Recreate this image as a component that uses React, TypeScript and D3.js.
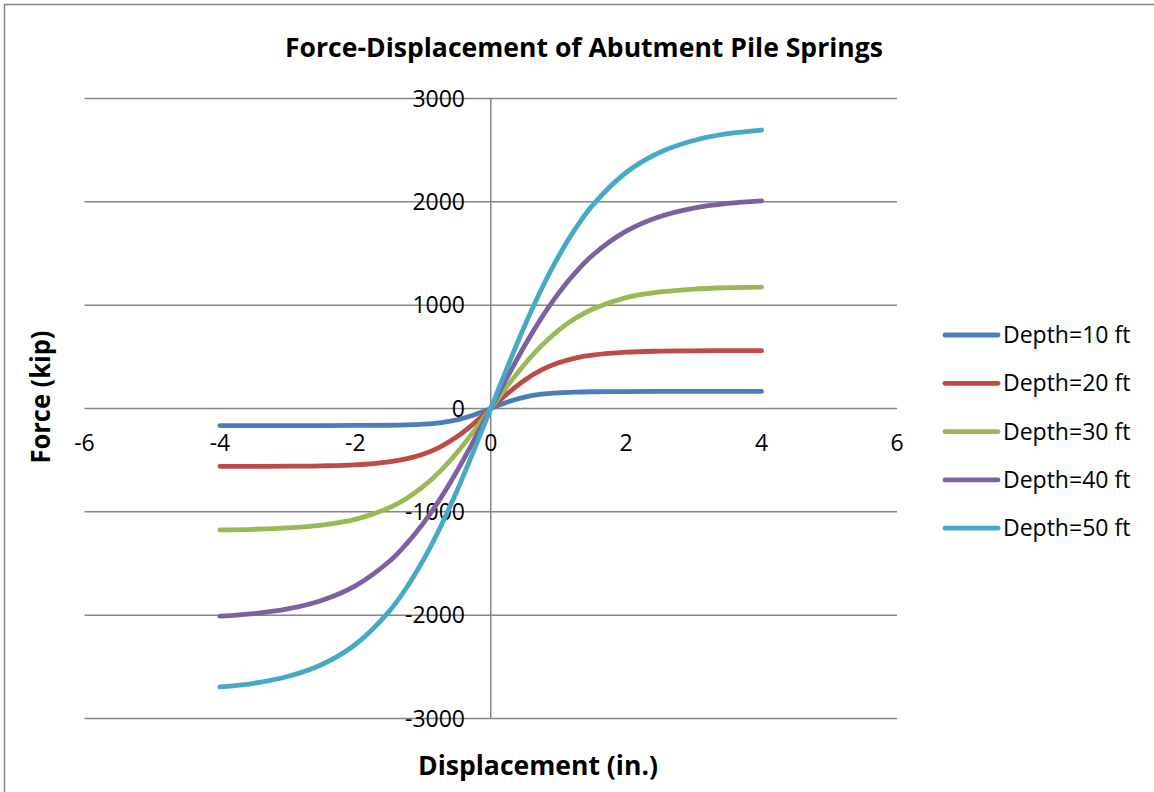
import * as d3 from "d3";

// displacement (in.)
const disp = [-4, -3.5, -3, -2.5, -2, -1.5, -1.25, -1, -0.75, -0.5, -0.25, 0, 0.25, 0.5, 0.75, 1, 1.25, 1.5, 2, 2.5, 3, 3.5, 4];

// force (kip) for each depth
const depth10 = [-165, -165, -165, -165, -164, -162, -159, -152, -138, -110, -63, 0, 63, 110, 138, 152, 159, 162, 164, 165, 165, 165, 165];
const depth20 = [-560, -560, -558, -555, -545, -516, -488, -442, -373, -274, -146, 0, 146, 274, 373, 442, 488, 516, 545, 555, 558, 560, 560];
const depth30 = [-1175, -1169, -1156, -1128, -1073, -961, -873, -757, -608, -428, -221, 0, 221, 428, 608, 757, 873, 961, 1073, 1128, 1156, 1169, 1175];
const depth40 = [-2010, -1985, -1940, -1858, -1716, -1481, -1314, -1114, -877, -607, -310, 0, 310, 607, 877, 1114, 1314, 1481, 1716, 1858, 1940, 1985, 2010];
const depth50 = [-2695, -2659, -2594, -2480, -2284, -1963, -1740, -1471, -1156, -798, -408, 0, 408, 798, 1156, 1471, 1740, 1963, 2284, 2480, 2594, 2659, 2695];

const seriesNames = ["Depth=10 ft", "Depth=20 ft", "Depth=30 ft", "Depth=40 ft", "Depth=50 ft"];
const seriesValues = [depth10, depth20, depth30, depth40, depth50];
const colors = ["#4A7EBB", "#BE4B48", "#98B954", "#7D60A0", "#46AAC5"];

const xTicks = [-6, -4, -2, 0, 2, 4, 6];
const yTicks = [-3000, -2000, -1000, 0, 1000, 2000, 3000];

const W = 1154;
const H = 792;
const font = "'Open Sans', sans-serif";
const grid = "#868686";

export default function App() {
  const x = d3.scaleLinear().domain([-6, 6]).range([84.5, 897]);
  const y = d3.scaleLinear().domain([-3000, 3000]).range([718.5, 98.5]);

  const line = d3
    .line<number>()
    .x((_, i) => x(disp[i]))
    .y((d) => y(d))
    .curve(d3.curveCatmullRom.alpha(0.5));

  return (
    <svg
      width={W}
      height={H}
      style={{ position: "absolute", left: 0, top: 0 }}
    >
      <rect x={0} y={0} width={W} height={H} fill="#fff" />
      <rect x={4.5} y={4.5} width={W + 20} height={H + 20} fill="none" stroke={grid} strokeWidth={1.5} />

      {/* title */}
      <text
        x={584}
        y={57}
        textAnchor="middle"
        fontFamily={font}
        fontWeight="bold"
        fontSize={27}
        textLength={598}
        lengthAdjust="spacingAndGlyphs"
      >
        Force-Displacement of Abutment Pile Springs
      </text>

      {/* horizontal gridlines */}
      {yTicks.map((t) => (
        <line key={"g" + t} x1={x(-6)} x2={x(6)} y1={y(t)} y2={y(t)} stroke={grid} strokeWidth={1.5} />
      ))}
      {/* y axis line */}
      <line x1={x(0)} x2={x(0)} y1={y(3000)} y2={y(-3000)} stroke={grid} strokeWidth={1.5} />

      {/* y tick labels */}
      {yTicks.map((t) => (
        <text key={"yl" + t} x={465} y={y(t) + 8} textAnchor="end" fontFamily={font} fontSize={23}>
          {t}
        </text>
      ))}
      {/* x tick labels */}
      {xTicks.map((t) => (
        <text key={"xl" + t} x={x(t)} y={451} textAnchor="middle" fontFamily={font} fontSize={23}>
          {t}
        </text>
      ))}

      {/* series */}
      {seriesValues.map((vals, i) => (
        <path
          key={"s" + i}
          d={line(vals) ?? ""}
          fill="none"
          stroke={colors[i]}
          strokeWidth={4.8}
          strokeLinecap="round"
          strokeLinejoin="round"
        />
      ))}

      {/* axis titles */}
      <text
        x={538}
        y={775}
        textAnchor="middle"
        fontFamily={font}
        fontWeight="bold"
        fontSize={26}
        textLength={240}
        lengthAdjust="spacingAndGlyphs"
      >
        Displacement (in.)
      </text>
      <text
        transform="translate(50,397) rotate(-90)"
        textAnchor="middle"
        fontFamily={font}
        fontWeight="bold"
        fontSize={26}
        textLength={133}
        lengthAdjust="spacingAndGlyphs"
      >
        Force (kip)
      </text>

      {/* legend */}
      {seriesNames.map((name, i) => {
        const ly = 335 + i * 48.3;
        return (
          <g key={"lg" + i}>
            <line x1={945} x2={998} y1={ly} y2={ly} stroke={colors[i]} strokeWidth={4.8} strokeLinecap="round" />
            <text x={1003} y={ly + 8} fontFamily={font} fontSize={23}>
              {name}
            </text>
          </g>
        );
      })}
    </svg>
  );
}
